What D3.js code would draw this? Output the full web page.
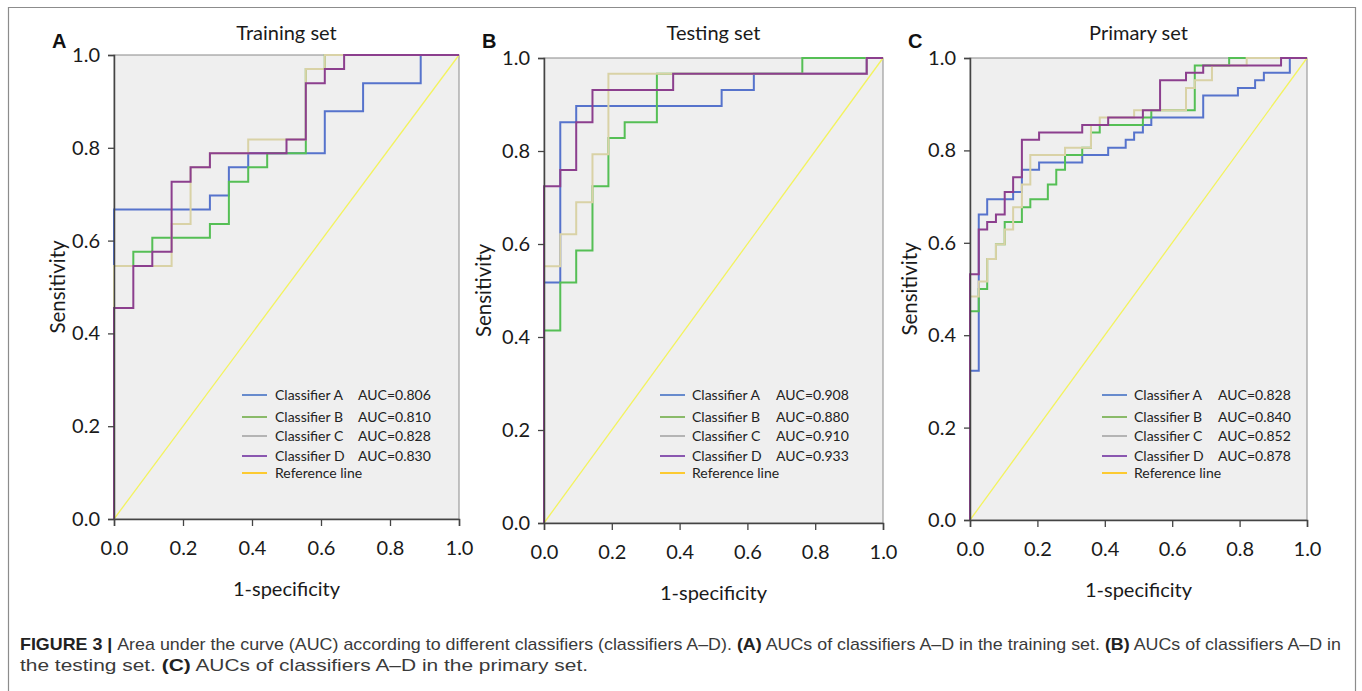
<!DOCTYPE html>
<html>
<head>
<meta charset="utf-8">
<script src="https://cdn.jsdelivr.net/npm/d3@7"></script>
<style>
  body { margin: 0; background: #fff; }
</style>
</head>
<body>
<svg id="fig" width="1362" height="691"></svg>
<script>
// ---- data ----
const panelTitles = ['Training set', 'Testing set', 'Primary set'];
const panelLetters = ['A', 'B', 'C'];
const classifierNames = ['Classifier A', 'Classifier B', 'Classifier C', 'Classifier D'];
const aucTraining = ['0.806', '0.810', '0.828', '0.830'];
const aucTesting = ['0.908', '0.880', '0.910', '0.933'];
const aucPrimary = ['0.828', '0.840', '0.852', '0.878'];
const axisTicks = [0, 0.2, 0.4, 0.6, 0.8, 1.0];

// training set (ROC step vertices, tpr level holds until next fpr)
const trainFprA = [0, 0, 0.278, 0.333, 0.389, 0.611, 0.722, 0.889, 1];
const trainTprA = [0, 0.667, 0.697, 0.758, 0.788, 0.879, 0.939, 1, 1];
const trainFprB = [0, 0, 0.056, 0.111, 0.278, 0.333, 0.389, 0.444, 0.556, 0.611, 1];
const trainTprB = [0, 0.545, 0.576, 0.606, 0.636, 0.727, 0.758, 0.788, 0.970, 1, 1];
const trainFprC = [0, 0, 0.167, 0.222, 0.278, 0.389, 0.556, 0.611, 1];
const trainTprC = [0, 0.545, 0.636, 0.758, 0.788, 0.818, 0.970, 1, 1];
const trainFprD = [0, 0, 0.056, 0.111, 0.167, 0.222, 0.278, 0.5, 0.556, 0.611, 0.667, 1];
const trainTprD = [0, 0.455, 0.545, 0.576, 0.727, 0.758, 0.788, 0.818, 0.939, 0.970, 1, 1];

// testing set
const testFprA = [0, 0, 0.048, 0.095, 0.524, 0.619, 0.952, 1];
const testTprA = [0, 0.517, 0.862, 0.897, 0.931, 0.966, 1, 1];
const testFprB = [0, 0, 0.048, 0.095, 0.143, 0.190, 0.238, 0.333, 0.762, 1];
const testTprB = [0, 0.414, 0.517, 0.586, 0.724, 0.828, 0.862, 0.966, 1, 1];
const testFprC = [0, 0, 0.048, 0.095, 0.143, 0.190, 0.952, 1];
const testTprC = [0, 0.552, 0.621, 0.690, 0.793, 0.966, 1, 1];
const testFprD = [0, 0, 0.048, 0.095, 0.143, 0.381, 0.952, 1];
const testTprD = [0, 0.724, 0.759, 0.862, 0.931, 0.966, 1, 1];

// primary set
const primFprA = [0, 0, 0.026, 0.051, 0.128, 0.154, 0.205, 0.333, 0.410, 0.462, 0.487, 0.513, 0.538, 0.692, 0.795, 0.846, 0.872, 0.949, 1];
const primTprA = [0, 0.323, 0.661, 0.694, 0.710, 0.758, 0.774, 0.790, 0.806, 0.823, 0.839, 0.855, 0.871, 0.919, 0.935, 0.952, 0.968, 1, 1];
const primFprB = [0, 0, 0.026, 0.051, 0.077, 0.103, 0.154, 0.179, 0.231, 0.256, 0.282, 0.333, 0.359, 0.385, 0.513, 0.538, 0.667, 0.769, 1];
const primTprB = [0, 0.452, 0.5, 0.565, 0.597, 0.645, 0.677, 0.694, 0.726, 0.758, 0.790, 0.806, 0.839, 0.855, 0.871, 0.887, 0.984, 1, 1];
const primFprC = [0, 0, 0.026, 0.051, 0.077, 0.103, 0.128, 0.154, 0.179, 0.282, 0.359, 0.385, 0.487, 0.641, 0.667, 0.718, 0.821, 1];
const primTprC = [0, 0.484, 0.516, 0.565, 0.597, 0.629, 0.677, 0.726, 0.790, 0.806, 0.855, 0.871, 0.887, 0.935, 0.952, 0.984, 1, 1];
const primFprD = [0, 0, 0.026, 0.051, 0.077, 0.103, 0.128, 0.154, 0.205, 0.333, 0.410, 0.513, 0.564, 0.641, 0.692, 0.923, 1];
const primTprD = [0, 0.532, 0.629, 0.645, 0.661, 0.710, 0.742, 0.823, 0.839, 0.855, 0.871, 0.887, 0.952, 0.968, 0.984, 1, 1];

// curve colours in the plot and (office style) colours in the legend
const curveColors = ['#5673cc', '#55bf55', '#d9d2a6', '#8c3f8e'];
const legendColors = ['#4472c4', '#70ad47', '#a5a5a5', '#7030a0'];
const refColor = '#f3f35e';
const refLegendColor = '#ffc000';

const chartFont = 'Lato, "Open Sans", sans-serif';
const captionFont = '"Liberation Sans", Arial, sans-serif';

const svg = d3.select('#fig');

// outer frame
svg.append('path')
    .attr('d', 'M8.5,700 V7.5 H1355.5 V700')
    .attr('fill', 'none')
    .attr('stroke', '#8c8c8c')
    .attr('stroke-width', 1.2);

const zip = (xs, ys) => xs.map((v, i) => [v, ys[i]]);

const panels = [
    {title: panelTitles[0], letter: panelLetters[0], auc: aucTraining,
     curves: [zip(trainFprA, trainTprA), zip(trainFprB, trainTprB), zip(trainFprC, trainTprC), zip(trainFprD, trainTprD)],
     l: 114, r: 459, t: 55, b: 519, ylabX: 58, legLine: 242, legText: 275, legAuc: 358},
    {title: panelTitles[1], letter: panelLetters[1], auc: aucTesting,
     curves: [zip(testFprA, testTprA), zip(testFprB, testTprB), zip(testFprC, testTprC), zip(testFprD, testTprD)],
     l: 544, r: 883, t: 58, b: 523, ylabX: 484, legLine: 660, legText: 692, legAuc: 776},
    {title: panelTitles[2], letter: panelLetters[2], auc: aucPrimary,
     curves: [zip(primFprA, primTprA), zip(primFprB, primTprB), zip(primFprC, primTprC), zip(primFprD, primTprD)],
     l: 970, r: 1307, t: 58, b: 520, ylabX: 910, legLine: 1102, legText: 1134, legAuc: 1218}
];

const legendRows = [395, 417, 436, 456, 473];

panels.forEach((p) => {
    const x = d3.scaleLinear().domain([0, 1]).range([p.l, p.r]);
    const y = d3.scaleLinear().domain([0, 1]).range([p.b, p.t]);
    const g = svg.append('g').style('font-family', chartFont);

    g.append('rect')
        .attr('x', p.l).attr('y', p.t)
        .attr('width', p.r - p.l).attr('height', p.b - p.t)
        .attr('fill', '#efefef')
        .attr('stroke', '#8a8a8a')
        .attr('stroke-width', 1);

    // reference diagonal
    g.append('line')
        .attr('x1', x(0)).attr('y1', y(0))
        .attr('x2', x(1)).attr('y2', y(1))
        .attr('stroke', refColor)
        .attr('stroke-width', 1.3);

    const line = d3.line()
        .x((d) => x(d[0]))
        .y((d) => y(d[1]))
        .curve(d3.curveStepAfter);

    g.selectAll('path.roc')
        .data(p.curves)
        .enter().append('path')
        .attr('class', 'roc')
        .attr('d', line)
        .attr('fill', 'none')
        .attr('stroke', (d, i) => curveColors[i])
        .attr('stroke-width', 2);

    // axes
    const yAxis = g.append('g')
        .attr('transform', `translate(${p.l},0)`)
        .call(d3.axisLeft(y).tickValues(axisTicks).tickFormat(d3.format('.1f')).tickSize(6).tickPadding(8));
    const xAxis = g.append('g')
        .attr('transform', `translate(0,${p.b})`)
        .call(d3.axisBottom(x).tickValues(axisTicks).tickFormat(d3.format('.1f')).tickSize(7).tickPadding(15));
    [yAxis, xAxis].forEach((a) => {
        a.select('.domain').attr('stroke', '#444').attr('stroke-width', 1.5);
        a.selectAll('.tick line').attr('stroke', '#444').attr('stroke-width', 1.3);
        a.selectAll('.tick text')
            .style('font-family', chartFont)
            .attr('font-size', 20)
            .attr('fill', '#1a1a1a');
    });

    // titles
    g.append('text')
        .attr('x', (p.l + p.r) / 2).attr('y', 40)
        .attr('text-anchor', 'middle')
        .attr('font-size', 20)
        .attr('fill', '#1a1a1a')
        .text(p.title);
    g.append('text')
        .attr('x', p.l - 62).attr('y', 48)
        .style('font-family', captionFont)
        .attr('font-weight', 'bold')
        .attr('font-size', 20)
        .attr('fill', '#111')
        .text(p.letter);
    g.append('text')
        .attr('transform', `translate(${p.ylabX},${(p.t + p.b) / 2}) rotate(-90)`)
        .attr('text-anchor', 'middle')
        .attr('dy', '0.35em')
        .attr('font-size', 20.5)
        .attr('fill', '#1a1a1a')
        .text('Sensitivity');
    g.append('text')
        .attr('x', (p.l + p.r) / 2).attr('y', p.b + 77)
        .attr('text-anchor', 'middle')
        .attr('font-size', 20)
        .attr('fill', '#1a1a1a')
        .text('1-specificity');

    // legend
    const leg = g.append('g');
    const names = classifierNames.concat(['Reference line']);
    const cols = legendColors.concat([refLegendColor]);
    names.forEach((name, i) => {
        const ly = legendRows[i];
        leg.append('line')
            .attr('x1', p.legLine).attr('x2', p.legLine + 25)
            .attr('y1', ly).attr('y2', ly)
            .attr('stroke', cols[i])
            .attr('stroke-width', 1.6);
        leg.append('text')
            .attr('x', p.legText).attr('y', ly)
            .attr('dy', '0.35em')
            .attr('font-size', 14)
            .attr('fill', '#222')
            .text(name);
        if (i < 4) {
            leg.append('text')
                .attr('x', p.legAuc).attr('y', ly)
                .attr('dy', '0.35em')
                .attr('font-size', 14)
                .attr('fill', '#222')
                .text('AUC=' + p.auc[i]);
        }
    });
});

// caption (condensed to the printed line widths)
const cap = svg.append('g')
    .style('font-family', captionFont)
    .attr('font-size', 17)
    .attr('fill', '#3a3a3a');

const line1 = cap.append('text')
    .attr('x', 20).attr('y', 650)
    .attr('textLength', 1321)
    .attr('lengthAdjust', 'spacingAndGlyphs');
line1.append('tspan').attr('font-weight', 'bold').attr('fill', '#222').text('FIGURE 3 | ');
line1.append('tspan').text('Area under the curve (AUC) according to different classifiers (classifiers A–D). ');
line1.append('tspan').attr('font-weight', 'bold').attr('fill', '#222').text('(A)');
line1.append('tspan').text(' AUCs of classifiers A–D in the training set. ');
line1.append('tspan').attr('font-weight', 'bold').attr('fill', '#222').text('(B)');
line1.append('tspan').text(' AUCs of classifiers A–D in');

const line2 = cap.append('text')
    .attr('x', 20).attr('y', 671)
    .attr('textLength', 568)
    .attr('lengthAdjust', 'spacingAndGlyphs');
line2.append('tspan').text('the testing set. ');
line2.append('tspan').attr('font-weight', 'bold').attr('fill', '#222').text('(C)');
line2.append('tspan').text(' AUCs of classifiers A–D in the primary set.');
</script>
</body>
</html>
